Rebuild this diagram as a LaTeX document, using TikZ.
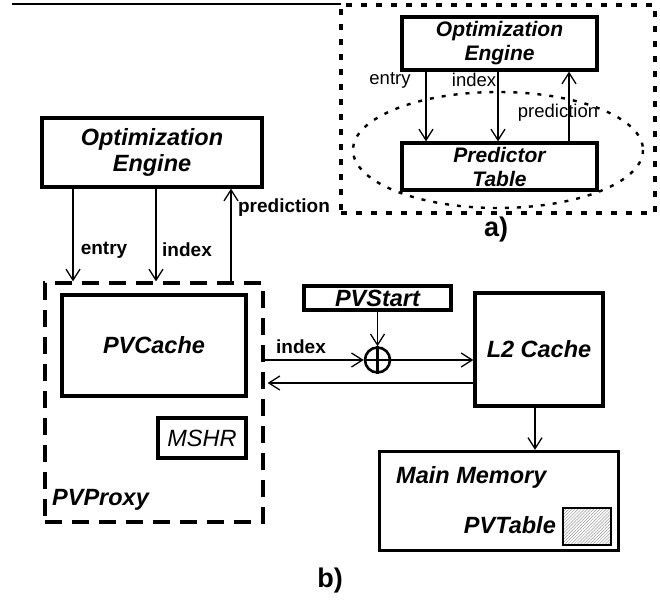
\documentclass[tikz,border=0pt]{standalone}
\usepackage{fontspec}
\setmainfont{Liberation Sans}
\usetikzlibrary{arrows.meta,patterns,patterns.meta,calc}
\begin{document}
\begin{tikzpicture}[x=1pt,y=-1pt,
  >={Straight Barb[length=11pt,width=14pt,line width=1.3pt]},
  box/.style={draw,line width=3.3pt,fill=white,inner sep=0pt,align=center},
  bigbi/.style={font=\fontsize{23.5}{26}\selectfont\bfseries\itshape},
  abi/.style={font=\fontsize{21}{24}\selectfont\bfseries\itshape},
  arr/.style={->,line width=1.6pt},
  lblb/.style={font=\fontsize{19}{22}\selectfont\bfseries,inner sep=0pt},
  lbla/.style={font=\fontsize{18.5}{22}\selectfont,inner sep=0pt},
  subcap/.style={font=\fontsize{27}{30}\selectfont\bfseries,inner sep=0pt}]
\useasboundingbox (0,0) rectangle (660,605);

% top rule
\coordinate (tl) at (12,4);
\coordinate (tr) at (341,4);
\draw[line width=1.2pt] (tl) -- (tr);

% ---------- part a ----------
\node[draw,line width=3.2pt,dash pattern=on 6pt off 9pt,minimum width=314pt,minimum height=208pt,inner sep=0pt] (frameA) at (498,109) {};
\draw[line width=2.4pt,dash pattern=on 4pt off 8pt] (498,150) ellipse [x radius=145, y radius=58];
\node[box,abi,minimum width=195pt,minimum height=53pt] (oeA) at (499.5,43.5) {Optimization\\Engine};
\node[box,abi,minimum width=195pt,minimum height=47pt] (pt) at (499.5,166.5) {Predictor\\Table};
\coordinate (xa1) at (426,0);
\coordinate (xa2) at (498,0);
\coordinate (xa3) at (569,0);
\draw[arr] (oeA.south -| xa1) -- (pt.north -| xa1);
\draw[arr] (oeA.south -| xa2) -- (pt.north -| xa2);
\draw[arr] (pt.north -| xa3) -- (oeA.south -| xa3);
\node[lbla] (entA) at (390,80) {entry};
\node[lbla] (idxA) at (474,80) {index};
\node[lbla] (predA) at (558,113) {prediction};
\node[subcap] (capA) at (496,230) {a)};

% ---------- part b ----------
\node[box,bigbi,minimum width=220pt,minimum height=69pt] (oeB) at (152,152.5) {Optimization\\Engine};
\node[draw,line width=3.3pt,dash pattern=on 17pt off 10pt,minimum width=218pt,minimum height=239pt,inner sep=0pt] (proxy) at (154,402.5) {};
\node[bigbi,anchor=west,inner sep=0pt] (proxyL) at (52,500) {PVProxy};
\node[box,bigbi,minimum width=184pt,minimum height=101pt] (pvc) at (154,345.5) {\raisebox{2pt}{PVCache}};
\node[box,font=\fontsize{23.5}{26}\selectfont\itshape,minimum width=88pt,minimum height=40pt] (mshr) at (202,438) {MSHR};

\coordinate (xb1) at (73,0);
\coordinate (xb2) at (156,0);
\coordinate (xb3) at (231,0);
\draw[arr] (oeB.south -| xb1) -- (proxy.north -| xb1);
\draw[arr] (oeB.south -| xb2) -- (proxy.north -| xb2);
\draw[arr] (proxy.north -| xb3) -- (oeB.south -| xb3);
\node[lblb] (entB) at (104,250) {entry};
\node[lblb] (idxB) at (187,250) {index};
\node[lblb] (predB) at (284,208) {prediction};

\node[box,bigbi,minimum width=147pt,minimum height=24pt] (pvs) at (377.5,298) {PVStart};
\node[draw,circle,line width=2.6pt,minimum size=25pt,inner sep=0pt] (xor) at (377.5,360) {};
\draw[line width=2.6pt] (xor.north) -- (xor.south);
\draw[line width=2.6pt] (xor.west) -- (xor.east);
\node[box,bigbi,minimum width=128pt,minimum height=113pt] (l2) at (539,349.5) {L2 Cache};
\node[box,minimum width=239pt,minimum height=99pt] (mm) at (499,501) {};
\node[bigbi,anchor=west,inner sep=0pt] (mmL) at (396,477) {Main Memory};
\node[draw,line width=2.4pt,minimum width=48pt,minimum height=37pt,inner sep=0pt,fill=gray!12,pattern={Lines[angle=45,distance=2.2pt,line width=0.5pt]},pattern color=gray!80] (pvt) at (587,526.5) {};
\node[bigbi,anchor=east,inner sep=0pt] (pvtL) at (556,525) {PVTable};

\coordinate (yi) at (0,360);
\coordinate (yr) at (0,383);
\draw[arr] (pvs.south) -- (xor.north);
\draw[arr] (proxy.east |- yi) -- (xor.west);
\draw[arr] (xor.east) -- (l2.west |- yi);
\draw[arr] (l2.west |- yr) -- ($(proxy.east |- yr)+(3,0)$);
\node[lblb] (idxM) at (301,347) {index};
\coordinate (xm) at (535,0);
\draw[arr] (l2.south -| xm) -- (mm.north -| xm);

\node[subcap] (capB) at (330,581) {b)};
\end{tikzpicture}
\end{document}
